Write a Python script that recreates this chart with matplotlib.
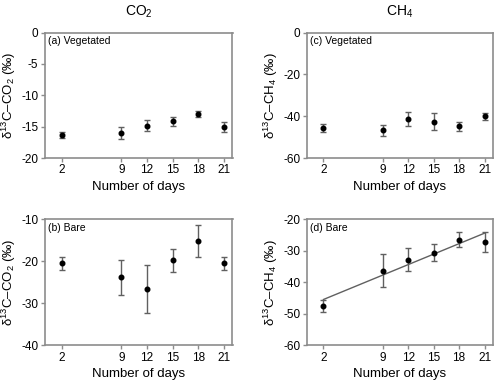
import matplotlib
matplotlib.use("Agg")
import matplotlib.pyplot as plt
import numpy as np

plt.rcParams['font.family'] = ['Liberation Sans', 'DejaVu Sans']
plt.rcParams['mathtext.fontset'] = 'custom'
plt.rcParams['mathtext.rm'] = 'Liberation Sans'
plt.rcParams['mathtext.it'] = 'Liberation Sans'
plt.rcParams['axes.unicode_minus'] = False

# sampling days
days = [2, 9, 12, 15, 18, 21]
xticks = [2, 9, 12, 15, 18, 21]

# (a) CO2 vegetated
co2_veg = [-16.3, -16.0, -14.8, -14.1, -13.0, -15.0]
co2_veg_err = [0.5, 1.0, 0.8, 0.7, 0.5, 0.8]
# (b) CO2 bare
co2_bare = [-20.5, -23.8, -26.5, -19.8, -15.2, -20.5]
co2_bare_err = [1.6, 4.2, 5.7, 2.8, 3.7, 1.5]
# (c) CH4 vegetated
ch4_veg = [-45.7, -46.7, -41.2, -42.5, -44.7, -40.0]
ch4_veg_err = [2.0, 2.7, 3.2, 3.9, 2.1, 1.8]
# (d) CH4 bare
ch4_bare = [-47.4, -36.4, -32.8, -30.6, -26.5, -27.2]
ch4_bare_err = [1.9, 5.2, 3.7, 2.7, 2.4, 3.2]

grey = '#8c8c8c'
fig = plt.figure(figsize=(5, 3.83), dpi=100)

def panel(pos, y, err, ylim, yticks, label, ylabel, fit=False):
    ax = fig.add_axes(pos)
    ax.errorbar(days, y, yerr=err, fmt='o', color='black', ms=3.3,
                ecolor='#606060', elinewidth=1, capsize=2.3, capthick=1)
    if fit:
        k, b = np.polyfit(days, y, 1)
        xs = np.array([days[0], days[-1]])
        ax.plot(xs, k * xs + b, color='#606060', lw=1)
    ax.set_xlim(0, 22)
    ax.set_ylim(*ylim)
    ax.set_xticks(xticks)
    ax.set_yticks(yticks)
    for s in ax.spines.values():
        s.set_color(grey)
        s.set_linewidth(1.2)
    ax.tick_params(color=grey, length=3, width=1, labelsize=8.5, pad=1.5)
    ax.set_xlabel('Number of days', fontsize=9.5, labelpad=3)
    ax.set_ylabel(ylabel, fontsize=9.5, labelpad=2)
    ax.text(0.02, 0.97, label, transform=ax.transAxes, fontsize=7.5,
            va='top', ha='left')
    return ax

co2_lab = r'δ$^{13}$C–CO$_2$ (‰)'
ch4_lab = r'δ$^{13}$C–CH$_4$ (‰)'

a = panel([0.089, 0.587, 0.376, 0.328], co2_veg, co2_veg_err, (-20, 0),
          [-20, -15, -10, -5, 0], '(a) Vegetated', co2_lab)
b = panel([0.089, 0.098, 0.376, 0.330], co2_bare, co2_bare_err, (-40, -10),
          [-40, -30, -20, -10], '(b) Bare', co2_lab)
c = panel([0.613, 0.587, 0.373, 0.328], ch4_veg, ch4_veg_err, (-60, 0),
          [-60, -40, -20, 0], '(c) Vegetated', ch4_lab)
d = panel([0.613, 0.098, 0.373, 0.330], ch4_bare, ch4_bare_err, (-60, -20),
          [-60, -50, -40, -30, -20], '(d) Bare', ch4_lab, fit=True)

a.set_title(r'CO$_2$', fontsize=10, pad=12)
c.set_title(r'CH$_4$', fontsize=10, pad=12)

fig.savefig('out.png', dpi=100)
